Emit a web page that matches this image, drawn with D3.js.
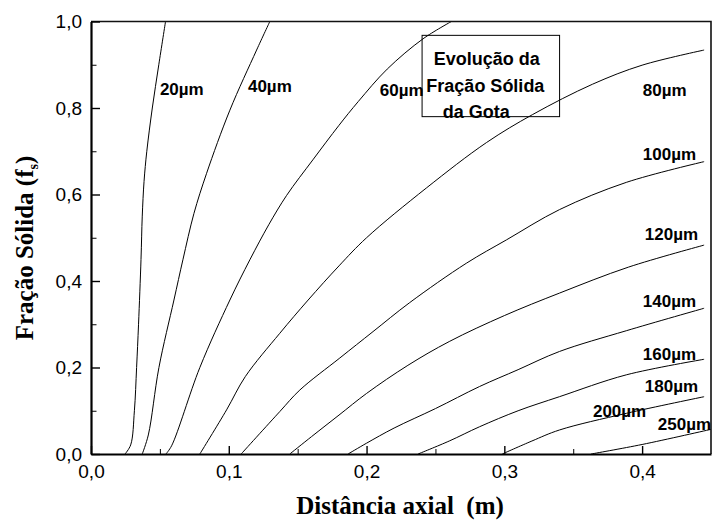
<!DOCTYPE html>
<html>
<head>
<meta charset="utf-8">
<script src="https://cdn.jsdelivr.net/npm/d3@7"></script>
<style>
  body { margin: 0; background: #fff; }
  svg { display: block; }
</style>
</head>
<body>
<div id="chart"></div>
<script>
// distância axial (m), fração sólida
const curve20 = [[0.0247,0],[0.0288,0.021],[0.0315,0.1],[0.0331,0.2],[0.0345,0.3],[0.0363,0.45],[0.0372,0.55],[0.0385,0.63],[0.0405,0.7],[0.0445,0.8],[0.0492,0.9],[0.0541,1.0]];
const curve40 = [[0.0372,0],[0.0416,0.044],[0.0493,0.2],[0.0602,0.356],[0.0667,0.449],[0.0747,0.556],[0.0839,0.649],[0.1008,0.795],[0.1202,0.934],[0.1298,1.0]];
const curve60 = [[0.0544,0],[0.0585,0.019],[0.079,0.2],[0.1008,0.356],[0.1153,0.449],[0.129,0.53],[0.142,0.598],[0.161,0.68],[0.18,0.76],[0.194,0.815],[0.215,0.89],[0.241,0.96],[0.2616,1.0]];
const curve80 = [[0.079,0],[0.0984,0.102],[0.112,0.179],[0.137,0.279],[0.1576,0.356],[0.18,0.435],[0.2,0.5],[0.2434,0.615],[0.287,0.72],[0.3206,0.785],[0.364,0.855],[0.4,0.899],[0.445,0.934]];
const curve100 = [[0.109,0],[0.137,0.098],[0.1516,0.148],[0.1806,0.222],[0.2047,0.283],[0.2313,0.35],[0.2724,0.441],[0.3015,0.495],[0.34,0.565],[0.3885,0.628],[0.445,0.676]];
const curve120 = [[0.1443,0],[0.16,0.04],[0.18,0.09],[0.2,0.14],[0.23,0.205],[0.26,0.26],[0.3,0.32],[0.34,0.372],[0.39,0.432],[0.445,0.483]];
const curve140 = [[0.1866,0],[0.2,0.025],[0.22,0.06],[0.25,0.105],[0.282,0.156],[0.31,0.195],[0.34,0.237],[0.3885,0.285],[0.445,0.337]];
const curve160 = [[0.2374,0],[0.26,0.03],[0.282,0.063],[0.31,0.1],[0.34,0.1325],[0.3885,0.183],[0.445,0.219]];
const curve180 = [[0.2985,0],[0.32,0.03],[0.34,0.0555],[0.3885,0.094],[0.445,0.1325]];
const curve250 = [[0.363,0],[0.4,0.022],[0.45,0.057]];

const curves = [curve20, curve40, curve60, curve80, curve100, curve120, curve140, curve160, curve180, curve250];

// curve labels and where they sit (data units)
const labelText = ["20µm","40µm","60µm","80µm","100µm","120µm","140µm","160µm","180µm","200µm","250µm"];
const labelX = [0.050, 0.1139, 0.2096, 0.4005, 0.4005, 0.402, 0.4005, 0.4005, 0.402, 0.3643, 0.4114];
const labelY = [0.83, 0.838, 0.828, 0.828, 0.68, 0.495, 0.341, 0.217, 0.144, 0.0863, 0.0555];

const boxLines = ["Evolução da", "Fração Sólida", "da Gota"];

const xMajor = [0, 0.1, 0.2, 0.3, 0.4];
const xMinor = [0.05, 0.15, 0.25, 0.35];
const yMajor = [0, 0.2, 0.4, 0.6, 0.8, 1.0];
const yMinor = [0.1, 0.3, 0.5, 0.7, 0.9];

const width = 714;
const height = 521;
const margin = { top: 21.5, right: 3, bottom: 67, left: 91 };
const innerWidth = width - margin.left - margin.right;
const innerHeight = height - margin.top - margin.bottom;

const svg = d3.select("#chart")
  .append("svg")
  .attr("width", width)
  .attr("height", height);

const g = svg.append("g").attr("transform", `translate(${margin.left},${margin.top})`);

const x = d3.scaleLinear().domain([0, 0.45]).range([0, innerWidth]);
const y = d3.scaleLinear().domain([0, 1]).range([innerHeight, 0]);

const comma = d => d3.format(".1f")(d).replace(".", ",");

// curves
const line = d3.line()
  .x(d => x(d[0]))
  .y(d => y(d[1]))
  .curve(d3.curveCatmullRom.alpha(0.5));
g.append("g")
  .selectAll("path")
  .data(curves)
  .join("path")
  .attr("fill", "none")
  .attr("stroke", "#000")
  .attr("stroke-width", 1)
  .attr("d", line);

// frame top + right
g.append("path")
  .attr("fill", "none")
  .attr("stroke", "#111")
  .attr("stroke-width", 1.6)
  .attr("d", `M0,0H${innerWidth}V${innerHeight}`);

// axes: minor ticks first
g.append("g")
  .attr("transform", `translate(0,${innerHeight})`)
  .call(d3.axisBottom(x).tickValues(xMinor).tickSize(-5).tickFormat(""))
  .call(a => a.select(".domain").remove());
g.append("g")
  .call(d3.axisLeft(y).tickValues(yMinor).tickSize(-5.5).tickFormat(""))
  .call(a => a.select(".domain").remove());

const xAxis = g.append("g")
  .attr("transform", `translate(0,${innerHeight})`)
  .call(d3.axisBottom(x).tickValues(xMajor).tickSize(-8).tickSizeOuter(0).tickPadding(11).tickFormat(comma));
const yAxis = g.append("g")
  .call(d3.axisLeft(y).tickValues(yMajor).tickSize(-9).tickSizeOuter(0).tickPadding(9).tickFormat(comma));

[xAxis, yAxis].forEach(a => {
  a.select(".domain").attr("stroke-width", 2.2);
  a.selectAll(".tick line").attr("stroke-width", 1.4);
  a.selectAll("text")
    .attr("font-family", "'Liberation Sans', Arial, sans-serif")
    .attr("font-size", 19)
    .attr("fill", "#000");
});
g.selectAll(".tick line").attr("stroke", "#000");

// curve labels
g.append("g")
  .selectAll("text")
  .data(labelText)
  .join("text")
  .attr("x", (d, i) => x(labelX[i]))
  .attr("y", (d, i) => y(labelY[i]))
  .attr("font-family", "'Liberation Sans', Arial, sans-serif")
  .attr("font-weight", "bold")
  .attr("font-size", 17)
  .text(d => d);

// title box (no fill: curves show through)
const box = g.append("g");
box.append("rect")
  .attr("x", x(0.2403))
  .attr("y", y(0.968))
  .attr("width", x(0.3401) - x(0.2403))
  .attr("height", y(0.78) - y(0.968))
  .attr("fill", "none")
  .attr("stroke", "#000")
  .attr("stroke-width", 1);
const boxX = [0.2487, 0.2434, 0.2553];
const boxY = [0.8995, 0.838, 0.776];
box.selectAll("text")
  .data(boxLines)
  .join("text")
  .attr("x", (d, i) => x(boxX[i]))
  .attr("y", (d, i) => y(boxY[i]))
  .attr("font-family", "'Liberation Sans', Arial, sans-serif")
  .attr("font-weight", "bold")
  .attr("font-size", 18)
  .text(d => d);

// axis titles
svg.append("text")
  .attr("x", 400)
  .attr("y", 514)
  .attr("text-anchor", "middle")
  .attr("font-family", "'Liberation Serif', 'Times New Roman', serif")
  .attr("font-weight", "bold")
  .attr("font-size", 25)
  .style("white-space", "pre")
  .text("Distância axial  (m)");

const yt = svg.append("text")
  .attr("transform", "translate(33,248) rotate(-90)")
  .attr("text-anchor", "middle")
  .attr("font-family", "'Liberation Serif', 'Times New Roman', serif")
  .attr("font-weight", "bold")
  .attr("font-size", 25);
yt.append("tspan").text("Fração Sólida (f");
yt.append("tspan").attr("font-size", 14).attr("dy", 5).text("s");
yt.append("tspan").attr("dy", -5).text(")");
</script>
</body>
</html>
